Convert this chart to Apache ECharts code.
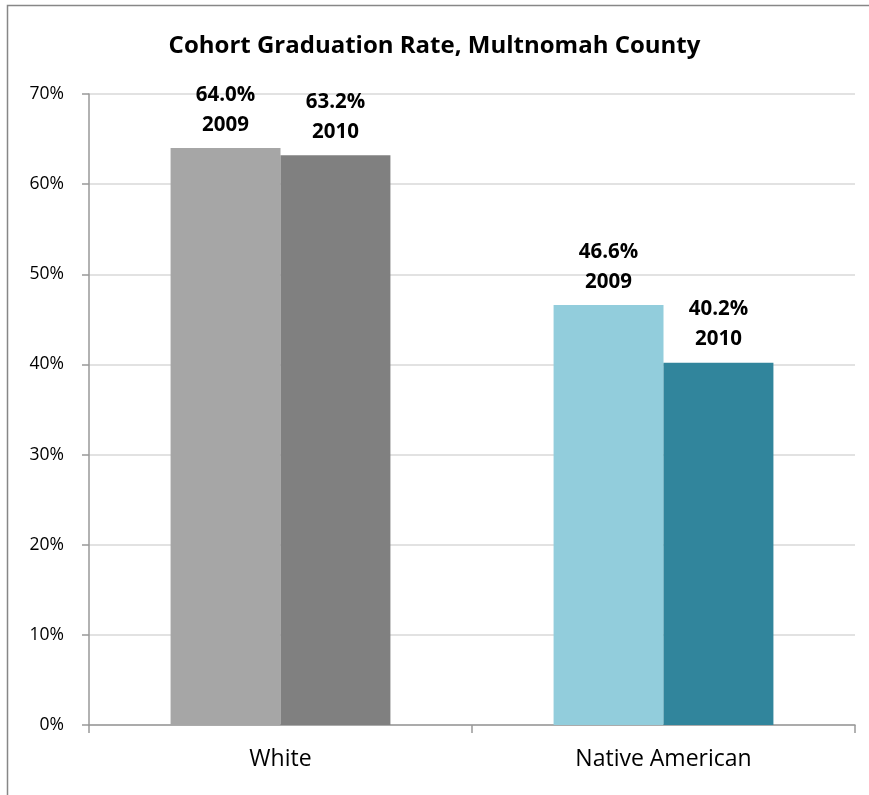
<!DOCTYPE html>
<html>
<head>
<meta charset="utf-8">
<script src="https://cdn.jsdelivr.net/npm/echarts@6/dist/echarts.min.js"></script>
<style>html,body{margin:0;padding:0;background:#fff;}#c{width:869px;height:795px;}</style>
</head>
<body>
<div id="c"></div>
<script>
var categories = ['White', 'Native American'];
var years = ['2009', '2010'];
var values2009 = [64.0, 46.6];
var values2010 = [63.2, 40.2];
var colors2009 = ['#A6A6A6', '#92CDDC'];
var colors2010 = ['#808080', '#31859C'];
var yTicks = [0, 10, 20, 30, 40, 50, 60, 70];

var font = '"Open Sans", "Liberation Sans", sans-serif';
function mkSeries(name, vals, cols) {
  return {
    name: name, type: 'bar', barGap: '0%', barCategoryGap: '42.6%',
    data: vals.map(function (v, i) { return { value: v, itemStyle: { color: cols[i] } }; }),
    label: {
      show: true, position: 'top', distance: 8,
      formatter: function (p) { return p.value.toFixed(1) + '%\n' + name; },
      fontFamily: font, fontWeight: 'bold', fontSize: 20.5, lineHeight: 30, color: '#000'
    }
  };
}
var chart = echarts.init(document.getElementById('c'), null, { renderer: 'canvas' });
chart.setOption({
  animation: false,
  graphic: [{ type: 'rect', shape: { x: 7.5, y: 5.5, width: 900, height: 900 }, style: { fill: 'none', stroke: '#878787', lineWidth: 1.5 }, z: -1 }],
  title: { text: 'Cohort Graduation Rate, Multnomah County', left: 'center', top: 29,
    textStyle: { fontFamily: font, fontWeight: 'bold', fontSize: 24, color: '#000' } },
  grid: { left: 89, right: 14, top: 94, bottom: 70 },
  xAxis: {
    type: 'category', data: categories,
    axisLine: { lineStyle: { color: '#999', width: 1.5 } },
    axisTick: { show: true, length: 8, lineStyle: { color: '#999', width: 1.5 } },
    axisLabel: { fontFamily: font, fontSize: 23, color: '#000', margin: 23 }
  },
  yAxis: {
    type: 'value', min: yTicks[0], max: yTicks[yTicks.length - 1], interval: 10,
    axisLine: { show: true, lineStyle: { color: '#999', width: 1.5 } },
    axisTick: { show: true, length: 7, lineStyle: { color: '#999', width: 1.5 } },
    splitLine: { lineStyle: { color: '#D9D9D9', width: 1.5 } },
    axisLabel: { fontFamily: font, fontSize: 17.5, color: '#000', margin: 25, formatter: '{value}%' }
  },
  series: [mkSeries(years[0], values2009, colors2009), mkSeries(years[1], values2010, colors2010)]
});
</script>
</body>
</html>
